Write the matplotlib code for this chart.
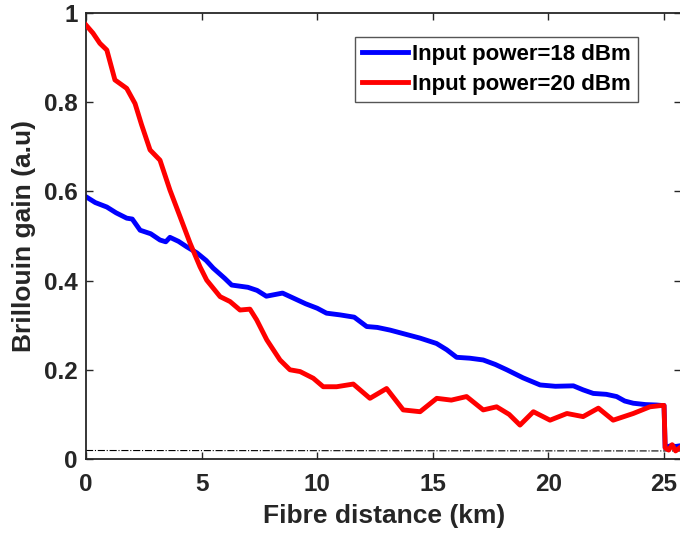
import matplotlib
matplotlib.use('Agg')
import matplotlib.pyplot as plt

# blue trace, 18 dBm (km, a.u.)
x_18 = [0.0, 0.4, 0.9, 1.3, 1.76, 2.0, 2.34, 2.8, 3.2, 3.45, 3.63, 4.0, 4.35, 4.8,
        5.2, 5.5, 6.0, 6.3, 7.0, 7.4, 7.8, 8.5, 9.0, 9.5, 10.0, 10.4, 11.0, 11.6,
        12.14, 12.6, 13.15, 13.8, 14.45, 15.16, 15.6, 16.03, 16.6, 17.18, 17.7,
        18.2, 18.9, 19.64, 20.3, 21.08, 21.5, 21.94, 22.5, 22.95, 23.3, 23.67,
        24.2, 24.68, 24.9, 25.0, 25.05, 25.3, 25.5, 25.75]
y_18 = [0.588, 0.575, 0.565, 0.552, 0.54, 0.538, 0.513, 0.505, 0.491, 0.487, 0.497,
        0.488, 0.476, 0.462, 0.445, 0.428, 0.405, 0.39, 0.385, 0.378, 0.365, 0.372,
        0.36, 0.348, 0.338, 0.327, 0.323, 0.318, 0.297, 0.295, 0.289, 0.28, 0.271,
        0.259, 0.245, 0.228, 0.226, 0.222, 0.212, 0.2, 0.182, 0.166, 0.163, 0.164,
        0.155, 0.147, 0.145, 0.14, 0.13, 0.125, 0.122, 0.121, 0.12, 0.12, 0.025,
        0.03, 0.028, 0.03]

# red trace, 20 dBm
x_20 = [0.0, 0.3, 0.6, 0.9, 1.25, 1.76, 2.12, 2.4, 2.77, 3.2, 3.63, 4.07, 4.5,
        4.93, 5.22, 5.8, 6.23, 6.66, 7.09, 7.38, 7.82, 8.39, 8.82, 9.26, 9.83,
        10.26, 10.84, 11.56, 12.28, 13.0, 13.72, 14.45, 15.17, 15.8, 16.46,
        17.18, 17.76, 18.3, 18.77, 19.35, 20.07, 20.8, 21.5, 22.16, 22.8, 23.67,
        24.39, 24.9, 25.0, 25.05, 25.2, 25.35, 25.5, 25.75]
y_20 = [0.973, 0.955, 0.932, 0.917, 0.85, 0.831, 0.797, 0.75, 0.693, 0.67, 0.603,
        0.543, 0.484, 0.431, 0.401, 0.364, 0.353, 0.334, 0.336, 0.312, 0.267,
        0.222, 0.2, 0.196, 0.181, 0.162, 0.162, 0.168, 0.136, 0.158, 0.11, 0.106,
        0.136, 0.132, 0.14, 0.11, 0.117, 0.1, 0.076, 0.106, 0.087, 0.102, 0.095,
        0.114, 0.087, 0.102, 0.117, 0.12, 0.12, 0.025, 0.02, 0.032, 0.018, 0.028]

# dash-dot reference level
x_ref = [0.0, 25.75]
y_ref = [0.019, 0.018]

plt.rcParams['font.family'] = ['Liberation Sans', 'DejaVu Sans']
plt.rcParams['font.weight'] = 'bold'
plt.rcParams['xtick.direction'] = 'in'
plt.rcParams['ytick.direction'] = 'in'

fig = plt.figure(figsize=(6.8, 5.36), dpi=100)
ax = fig.add_axes([0.1265, 0.1437, 0.8755, 0.832])

ax.plot(x_ref, y_ref, color='k', linestyle='-.', linewidth=0.8, zorder=1)
ax.plot(x_18, y_18, color='#0000ff', linewidth=3.5, label='Input power=18 dBm', zorder=2)
ax.plot(x_20, y_20, color='#ff0000', linewidth=3.5, label='Input power=20 dBm', zorder=3)

ax.set_xlim(0, 25.75)
ax.set_ylim(0, 1)
ax.set_xticks([0, 5, 10, 15, 20, 25])
ax.set_yticks([0, 0.2, 0.4, 0.6, 0.8, 1])
ax.set_yticklabels(['0', '0.2', '0.4', '0.6', '0.8', '1'])

dark = '#262626'
for s in ax.spines.values():
    s.set_color(dark)
    s.set_linewidth(1.3)
ax.tick_params(which='major', length=5, width=1.0, colors=dark, labelsize=17.5,
               top=True, right=True)
ax.tick_params(axis='x', pad=10)
ax.tick_params(axis='y', pad=6)
for lab in ax.get_xticklabels() + ax.get_yticklabels():
    lab.set_fontweight('bold')

ax.set_xlabel('Fibre distance (km)', fontsize=19, fontweight='bold', color=dark, labelpad=6)
ax.set_ylabel('Brillouin gain (a.u)', fontsize=19, fontweight='bold', color=dark, labelpad=6)

leg = ax.legend(loc='upper right', bbox_to_anchor=(0.927, 0.946), fontsize=16,
                handlelength=2.05, handletextpad=0.2, borderpad=0.32,
                labelspacing=0.38, fancybox=False, framealpha=1, borderaxespad=0)
leg.get_frame().set_edgecolor('#555555')
leg.get_frame().set_linewidth(1.0)
for t in leg.get_texts():
    t.set_fontweight('bold')

fig.savefig('out.png', dpi=100)
